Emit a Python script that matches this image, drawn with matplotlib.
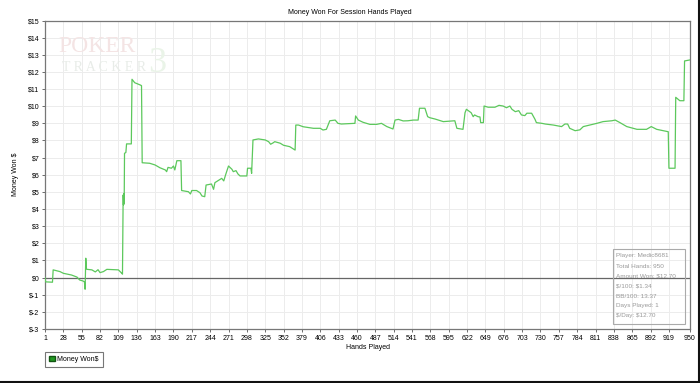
import matplotlib
matplotlib.use("Agg")
import matplotlib.pyplot as plt
from matplotlib.patches import Patch
from matplotlib.lines import Line2D

plt.rcParams['font.family'] = ['Liberation Sans', 'DejaVu Sans']
plt.rcParams['text.parse_math'] = False

# cumulative winnings (hand number, dollars)
hands = [1, 2, 12, 13, 23, 28, 40, 48, 52, 57, 59, 60, 61, 62, 63, 70, 75, 79, 82, 87,
         92, 109, 114, 115, 116, 116.5, 117, 117.5, 118, 120, 121, 128, 129, 133, 141, 143,
         144, 155, 163, 170, 178, 180, 182, 187, 190, 192, 195, 201, 202, 212, 215, 217,
         224, 229, 232, 236, 238, 246, 249, 251, 257, 261, 264, 267, 271, 276, 278, 282,
         285, 288, 298, 299, 304, 305, 307, 315, 325, 330, 333, 337, 339, 347, 352, 361,
         369, 370, 374, 381, 396, 406, 410, 415, 420, 428, 432, 437, 457, 458, 462, 469,
         479, 489, 496, 504, 513, 516, 521, 528, 535, 543, 550, 552, 560, 564, 567, 575,
         580, 587, 604, 607, 616, 619, 621, 626, 628, 631, 633, 638, 641, 642, 646, 647,
         653, 663, 669, 675, 680, 685, 688, 693, 698, 702, 707, 710, 717, 722, 724, 732,
         737, 749, 761, 766, 770, 773, 781, 788, 793, 813, 822, 835, 840, 847, 857, 872,
         886, 893, 901, 911, 918, 919, 928, 929, 935, 941, 942, 950]
won = [0.0, -0.25, -0.27, 0.45, 0.35, 0.25, 0.15, 0.03, -0.14, -0.2, -0.25, -0.68, 1.13,
       0.5, 0.48, 0.45, 0.33, 0.46, 0.29, 0.35, 0.48, 0.45, 0.25, 0.2, 4.82, 4.24, 4.9,
       4.3, 7.25, 7.3, 7.8, 7.8, 11.57, 11.37, 11.24, 11.2, 6.70, 6.67, 6.57, 6.41, 6.28,
       6.18, 6.43, 6.38, 6.51, 6.28, 6.82, 6.82, 5.08, 5.01, 4.88, 5.08, 5.08, 4.95, 4.76,
       4.72, 5.40, 5.46, 5.15, 5.54, 5.69, 5.79, 5.64, 6.03, 6.51, 6.32, 6.18, 6.24, 6.04,
       5.93, 5.93, 6.38, 6.38, 6.08, 8.03, 8.09, 8.03, 7.93, 7.78, 7.87, 7.93, 7.84, 7.72,
       7.64, 7.44, 8.90, 8.90, 8.80, 8.71, 8.71, 8.61, 8.65, 9.15, 9.19, 9.0, 8.96, 9.0,
       9.43, 9.19, 9.06, 8.94, 8.94, 9.0, 8.81, 8.67, 9.19, 9.23, 9.14, 9.15, 9.19, 9.19,
       9.88, 9.88, 9.39, 9.33, 9.25, 9.19, 9.10, 9.15, 8.71, 8.65, 9.62, 9.82, 9.68, 9.62,
       9.39, 9.49, 9.39, 9.37, 9.04, 9.04, 10.01, 9.94, 9.94, 10.05, 10.01, 9.91, 10.01,
       9.82, 9.68, 9.74, 9.49, 9.45, 9.59, 9.59, 9.23, 9.04, 9.0, 8.96, 8.90, 8.81, 8.96,
       8.96, 8.71, 8.57, 8.62, 8.81, 9.0, 9.10, 9.15, 9.19, 9.04, 8.81, 8.65, 8.65, 8.81,
       8.65, 8.57, 8.51, 6.38, 6.38, 10.52, 10.32, 10.32, 12.64, 12.70]

x_ticks = [1, 28, 55, 82, 109, 136, 163, 190, 217, 244, 271, 298, 325, 352, 379, 406,
           433, 460, 487, 514, 541, 568, 595, 622, 649, 676, 703, 730, 757, 784, 811, 838,
           865, 892, 919, 950]
y_ticks = list(range(-3, 16))

stats = ["Player: Medic8681", "Total Hands: 950", "Amount Won: $12.70", "$/100: $1.34",
         "BB/100: 13.37", "Days Played: 1", "$/Day: $12.70"]

fig = plt.figure(figsize=(7, 3.83), dpi=100)
ax = fig.add_axes([45 / 700, 1 - 329 / 383, 645 / 700, 308.5 / 383])

ax.set_xlim(1, 950)
ax.set_ylim(-3, 15)
ax.set_xticks(x_ticks)
ax.set_yticks(y_ticks)
ax.set_yticklabels(["$%d" % v for v in y_ticks])
ax.tick_params(labelsize=5, length=2.5, width=0.6, color='#555555', pad=1.5)
ax.grid(True, color='#ececec', linewidth=0.7)
ax.set_axisbelow(True)
for s in ax.spines.values():
    s.set_color('#777777')
    s.set_linewidth(0.9)

# watermark
fig.text(58 / 700, 1 - 52 / 383, "POKER", fontsize=17, family='Liberation Serif',
         color='#f4e4e4', zorder=0)
fig.text(62 / 700, 1 - 71 / 383, "T R A C K E R", fontsize=10, family='Liberation Serif',
         color='#e8ece8', zorder=0)
fig.text(148 / 700, 1 - 72 / 383, "3", fontsize=26, family='Liberation Serif',
         color='#eaf4e8', zorder=0)

ax.axhline(0, color='#666666', linewidth=0.9, zorder=2)
ax.plot(hands, won, color='#5cc85c', linewidth=0.9, zorder=3)

fig.text(0.5, 1 - 12 / 383, "Money Won For Session Hands Played", fontsize=5,
         ha='center', va='center')
ax.set_xlabel("Hands Played", fontsize=5, labelpad=2)
ax.set_ylabel("Money Won $", fontsize=5, labelpad=6)

# stats box
box = plt.Rectangle((613 / 700, 1 - 324 / 383), 72 / 700, 75 / 383, transform=fig.transFigure,
                    fill=False, edgecolor='#aaaaaa', linewidth=0.8)
fig.patches.append(box)
for i, line in enumerate(stats):
    fig.text(616 / 700, 1 - (256 + 10 * i) / 383, line, fontsize=4.6, color='#999999',
             va='center')

leg = ax.legend(handles=[Patch(facecolor='#229922', edgecolor='#115511', label='Money Won$')],
                loc='upper left', bbox_to_anchor=(45 / 700, 1 - 352 / 383),
                bbox_transform=fig.transFigure, fontsize=5, fancybox=False,
                edgecolor='#555555', handlelength=0.8, handleheight=0.8,
                handletextpad=0.4, borderpad=0.6, borderaxespad=0)
leg.get_frame().set_linewidth(0.8)

# frame shadow on right and bottom
fig.add_artist(Line2D([0, 1], [0.002, 0.002], transform=fig.transFigure, color='#111111', linewidth=1.5))
fig.add_artist(Line2D([0.998, 0.998], [0, 1], transform=fig.transFigure, color='#111111', linewidth=1.5))

fig.savefig("out.png", dpi=100)
